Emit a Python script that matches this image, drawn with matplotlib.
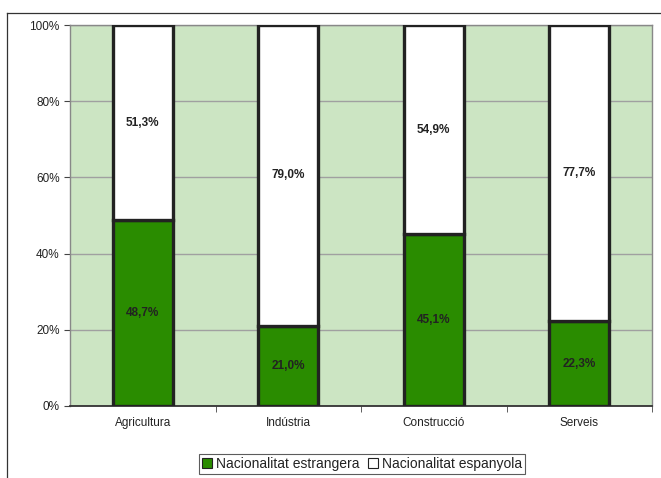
import matplotlib
matplotlib.use("Agg")
import matplotlib.pyplot as plt
from matplotlib.lines import Line2D
from matplotlib.patches import Patch
import numpy as np

categories = ["Agricultura", "Indústria", "Construcció", "Serveis"]
estrangera = [48.7, 21.0, 45.1, 22.3]
espanyola = [51.3, 79.0, 54.9, 77.7]
series_names = ["Nacionalitat estrangera", "Nacionalitat espanyola"]
yticks = [0, 20, 40, 60, 80, 100]

plt.rcParams['font.family'] = ['Liberation Sans', 'DejaVu Sans']

fig = plt.figure(figsize=(6.61, 4.78), dpi=100)
ax = fig.add_axes([70/661, 1-406/478, 582/661, 381/478])

green = "#2a8c00"
bg = "#cce5c3"
ax.set_facecolor(bg)
x = np.arange(len(categories))
w = 0.41
ax.bar(x, estrangera, w, color=green, edgecolor="#222222", linewidth=2.4, zorder=3)
ax.bar(x, espanyola, w, bottom=estrangera, color="white", edgecolor="#222222", linewidth=2.4, zorder=3)

for i in range(len(categories)):
    ax.text(x[i], estrangera[i]/2, f"{estrangera[i]:.1f}%".replace(".", ","),
            ha="center", va="center", fontsize=8.5, fontweight="bold", color="#222222", zorder=4)
    ax.text(x[i], estrangera[i] + espanyola[i]/2, f"{espanyola[i]:.1f}%".replace(".", ","),
            ha="center", va="center", fontsize=8.5, fontweight="bold", color="#222222", zorder=4)

ax.set_xlim(-0.5, len(categories)-0.5)
ax.set_ylim(0, 100)
ax.set_yticks(yticks)
ax.set_yticklabels([f"{v}%" for v in yticks], fontsize=8.5, color="#222222")
ax.yaxis.grid(True, color="#a0a0a0", linewidth=1.0, zorder=1)
ax.set_axisbelow(True)
ax.set_xticks(x)
ax.set_xticklabels(categories, fontsize=8.5, color="#222222")
ax.tick_params(axis="x", length=0, pad=8)
ax.set_xticks(np.arange(0.5, len(categories)), minor=True)
ax.tick_params(axis="x", which="minor", length=4, direction="out", color="#444444")
ax.tick_params(axis="y", length=4, direction="out", color="#444444")
for s in ["top", "right", "left"]:
    ax.spines[s].set_color("#888888")
    ax.spines[s].set_linewidth(1.0)
ax.spines["bottom"].set_color("#333333")
ax.spines["bottom"].set_linewidth(1.3)

# outer frame lines
fig.add_artist(Line2D([7/661, 1], [1-13/478, 1-13/478], color="#333333", linewidth=0.9))
fig.add_artist(Line2D([7/661, 7/661], [0, 1-13/478], color="#333333", linewidth=0.9))

handles = [Patch(facecolor=green, edgecolor="#222222", linewidth=0.8),
           Patch(facecolor="white", edgecolor="#222222", linewidth=0.8)]
leg = fig.legend(handles, series_names, loc="center", bbox_to_anchor=(362/661, 1-464/478),
                 ncol=2, fontsize=10, frameon=True, fancybox=False, edgecolor="#333333",
                 handlelength=0.7, handleheight=0.7, handletextpad=0.3, columnspacing=0.6,
                 borderpad=0.25, borderaxespad=0)
leg.get_frame().set_linewidth(0.8)
for t in leg.get_texts():
    t.set_color("#222222")

fig.savefig("out.png", dpi=100)
